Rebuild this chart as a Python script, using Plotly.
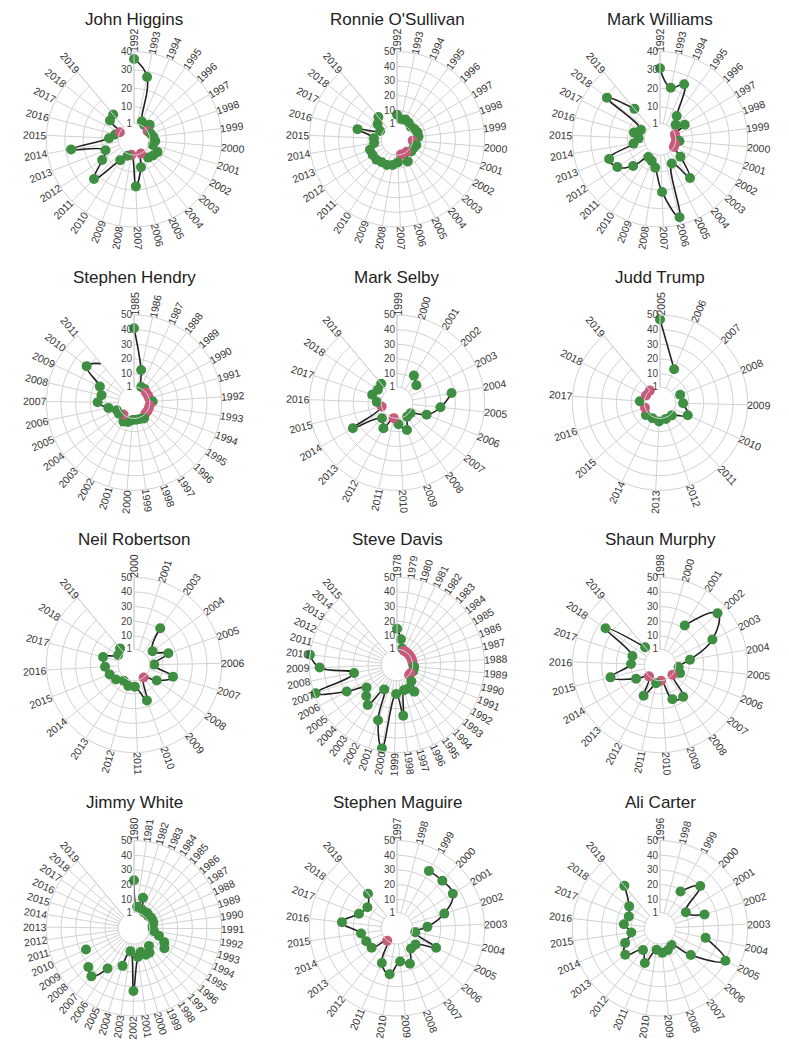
import math
import plotly.graph_objects as go

players = ["John Higgins", "Ronnie O'Sullivan", "Mark Williams",
           "Stephen Hendry", "Mark Selby", "Judd Trump",
           "Neil Robertson", "Steve Davis", "Shaun Murphy",
           "Jimmy White", "Stephen Maguire", "Ali Carter"]
radial_max = [40, 50, 40, 50, 50, 50, 50, 50, 50, 50, 50, 50]

higgins_years = [1992, 1993, 1994, 1995, 1996, 1997, 1998, 1999, 2000, 2001, 2002, 2003, 2004, 2005,
                 2006, 2007, 2008, 2009, 2010, 2011, 2012, 2013, 2014, 2015, 2016, 2017, 2018, 2019]
higgins_rank = [36, 27, 3, 2, 4, 1, 2, 3, 4, 3, 7, 6, 5, 1,
                8, 18, 1, 2, 6, 23, 13, 9, 27, 6, 3, 1, 9, 10]

osullivan_years = [1992, 1993, 1994, 1995, 1996, 1997, 1998, 1999, 2000, 2001, 2002, 2003, 2004, 2005,
                   2006, 2007, 2008, 2009, 2010, 2011, 2012, 2013, 2014, 2015, 2016, 2017, 2018, 2019]
osullivan_rank = [7, 4, 5, 4, 3, 4, 5, 5, 1, 4, 3, 3, 1, 7,
                  1, 6, 8, 9, 9, 10, 10, 10, 6, 6, 18, 3, 7, 10]

williams_years = [1992, 1993, 1994, 1995, 1996, 1997, 1998, 1999, 2000, 2001, 2002, 2003, 2004, 2005,
                  2006, 2007, 2008, 2009, 2010, 2011, 2012, 2013, 2014, 2015, 2016, 2017, 2018, 2019]
williams_rank = [31, 21, 25, 8, 4, 8, 1, 1, 3, 1, 1, 7, 19, 7,
                 36, 21, 8, 5, 4, 13, 20, 22, 7, 4, 7, 4, 29, 14]

hendry_years = [1985, 1986, 1987, 1988, 1989, 1990, 1991, 1992, 1993, 1994, 1995, 1996, 1997, 1998,
                1999, 2000, 2001, 2002, 2003, 2004, 2005, 2006, 2007, 2008, 2009, 2010, 2011]
hendry_rank = [41, 13, 2, 2, 1, 1, 1, 3, 1, 1, 1, 1, 3, 2,
               2, 2, 4, 5, 1, 3, 3, 8, 15, 13, 16, 31, 25]

selby_years = [1999, 2000, 2001, 2002, 2003, 2004, 2005, 2006, 2007, 2008, 2009, 2010,
               2011, 2012, 2013, 2014, 2015, 2016, 2017, 2018, 2019]
selby_rank = [None, None, 12, 8, None, 28, 20, 12, 2, 2, 10, 5,
              1, 10, 5, 25, 1, 4, 8, 6, 7]

trump_years = [2005, 2006, 2007, 2008, 2009, 2010, 2011, 2012, 2013, 2014, 2015, 2016, 2017, 2018, 2019]
trump_rank = [47, 15, None, 5, 6, 11, 2, 2, 3, 2, 3, 1, 4, 1, 1]

robertson_years = [2000, 2001, 2003, 2004, 2005, 2006, 2007, 2008, 2009, 2010,
                   2011, 2012, 2013, 2014, 2015, 2016, 2017, 2018, 2019]
robertson_rank = [None, None, 21, 6, 15, 4, 18, 9, 1, 16,
                  5, 5, 3, 6, 8, 10, 12, 3, 5]

davis_years = [1978, 1979, 1980, 1981, 1982, 1983, 1984, 1985, 1986, 1987, 1988, 1989, 1990,
               1991, 1992, 1993, 1994, 1995, 1996, 1997, 1998, 1999, 2000, 2001, 2002, 2003,
               2004, 2005, 2006, 2007, 2008, 2009, 2010, 2011, 2012, 2013, 2014, 2015]
davis_rank = [15, 8, 2, 1, 1, 1, 1, 1, 1, 1, 1, 2, 2,
              2, 1, 1, 5, 12, 8, 8, 25, 10, 48, 30, 9, 24,
              20, 16, 29, 49, 20, 43, 50, None, None, None, None, None]

murphy_years = [1998, 2000, 2001, 2002, 2003, 2004, 2005, 2006, 2007, 2008, 2009,
                2010, 2011, 2012, 2013, 2014, 2015, 2016, 2017, 2018, 2019]
murphy_rank = [None, None, 22, 43, 30, 11, 3, 5, 1, 17, 15,
               1, 3, 14, 1, 9, 25, 10, 10, 35, 6]

white_years = [1980, 1981, 1982, 1983, 1984, 1985, 1986, 1987, 1988, 1989, 1990, 1991, 1992, 1993,
               1994, 1995, 1996, 1997, 1998, 1999, 2000, 2001, 2002, 2003, 2004, 2005, 2006, 2007,
               2008, 2009, 2010, 2011, 2012, 2013, 2014, 2015, 2016, 2017, 2018, 2019]
white_rank = [23, 5, 12, 4, 3, 4, 3, 4, 4, 4, 3, 3, 4, 8,
              13, 15, None, 6, 10, 10, 7, 10, 33, 6, 17, None, 23, 34,
              31, None, 26, None, None, None, None, None, None, None, None, None]

maguire_years = [1997, 1998, 1999, 2000, 2001, 2002, 2003, 2004, 2005, 2006, 2007, 2008,
                 2009, 2010, 2011, 2012, 2013, 2014, 2015, 2016, 2017, 2018, 2019]
maguire_rank = [None, None, 35, 35, 35, 24, 11, 3, 20, 7, 7, 16,
                13, 22, 16, 1, 12, 13, 15, 28, 18, 15, 21]

carter_years = [1996, 1998, 1999, 2000, 2001, 2002, 2003, 2004, 2005, 2006, 2007, 2008,
                2009, 2010, 2011, 2012, 2013, 2014, 2015, 2016, 2017, 2018, 2019]
carter_rank = [None, None, 19, 30, 11, 22, None, 22, 40, 18, 4, 6,
               7, 5, 16, 9, 20, 16, 10, 15, 13, 16, 28]

all_years = [higgins_years, osullivan_years, williams_years, hendry_years, selby_years, trump_years,
             robertson_years, davis_years, murphy_years, white_years, maguire_years, carter_years]
all_ranks = [higgins_rank, osullivan_rank, williams_rank, hendry_rank, selby_rank, trump_rank,
             robertson_rank, davis_rank, murphy_rank, white_rank, maguire_rank, carter_rank]

# page geometry (px, measured on the page; the body has an 8px margin)
PAGE_MARGIN = 8
W, H = 789 - 2 * PAGE_MARGIN, 1052 - 2 * PAGE_MARGIN
col_x = [134, 397, 660]
row_y = [139.3, 402.7, 665.0, 928.3]
R = 87.7
SPAN = 320  # degrees covered by the years
HOLE = 0.18

GREEN = '#3f8f42'
PINK = '#c85a7a'
GRID = '#d2d2d2'
FONT = 'Liberation Sans, Arial, sans-serif'


def to_paper(px, py):
    return (px - PAGE_MARGIN) / W, 1 - (py - PAGE_MARGIN) / H


fig = go.Figure()
annotations = []

for k, name in enumerate(players):
    years = all_years[k]
    ranks = all_ranks[k]
    labels = [str(y) for y in years]
    cx = col_x[k % 3]
    cy = row_y[k // 3]
    key = 'polar' if k == 0 else f'polar{k + 1}'
    period = (len(labels) - 1) * 360 / SPAN

    colors = [PINK if r == 1 else GREEN for r in ranks]
    fig.add_trace(go.Scatterpolar(
        r=ranks,
        theta=labels,
        subplot=key,
        mode='lines+markers',
        line=dict(color='#222222', width=1.6, shape='spline', smoothing=1.3),
        marker=dict(color=colors, size=10),
        connectgaps=False,
        cliponaxis=False,
        showlegend=False,
        hoverinfo='skip'
    ))

    x0, y1 = to_paper(cx - R, cy - R)
    x1, y0 = to_paper(cx + R, cy + R)
    rmax = radial_max[k]
    tickvals = [1] + list(range(10, rmax + 1, 10))
    fig.update_layout(**{key: dict(
        domain=dict(x=[x0, x1], y=[y0, y1]),
        sector=[90 - SPAN, 90],
        hole=HOLE,
        bgcolor='white',
        angularaxis=dict(
            type='category',
            categoryorder='array',
            categoryarray=labels,
            period=period,
            rotation=90,
            direction='clockwise',
            showticklabels=False,
            ticks='',
            showgrid=True,
            gridcolor=GRID,
            gridwidth=1,
            showline=True,
            linecolor=GRID,
            linewidth=1
        ),
        radialaxis=dict(
            range=[1, rmax],
            tickvals=tickvals,
            ticktext=[str(v) for v in tickvals],
            angle=90,
            tickangle=90,
            side='counterclockwise',
            showline=False,
            ticks='',
            showgrid=True,
            gridcolor=GRID,
            gridwidth=1,
            tickfont=dict(size=10, color='#444444', family=FONT)
        )
    )})

    # player name (kept inside the top edge of the figure)
    tx, ty = to_paper(cx, max(cy - 125.5, 19))
    annotations.append(dict(
        text=name, x=tx, y=ty, xref='paper', yref='paper',
        xanchor='center', yanchor='middle', showarrow=False,
        font=dict(size=17, color='#222222', family=FONT)
    ))

    # year labels, written along the spokes
    for i, lab in enumerate(labels):
        ang = i * 360 / period
        dist = R + 11.5
        lx, ly = to_paper(cx + dist * math.sin(math.radians(ang)),
                          cy - dist * math.cos(math.radians(ang)))
        rot = ang - 90 if ang < 180 else ang - 270
        annotations.append(dict(
            text=lab, x=lx, y=ly, xref='paper', yref='paper',
            xanchor='center', yanchor='middle', showarrow=False, textangle=rot,
            font=dict(size=10.5, color='#333333', family=FONT)
        ))

fig.update_layout(
    width=W,
    height=H,
    autosize=False,
    margin=dict(l=0, r=0, t=0, b=0),
    paper_bgcolor='white',
    plot_bgcolor='white',
    showlegend=False,
    annotations=annotations,
    font=dict(family=FONT)
)

fig.write_html("out.html")
